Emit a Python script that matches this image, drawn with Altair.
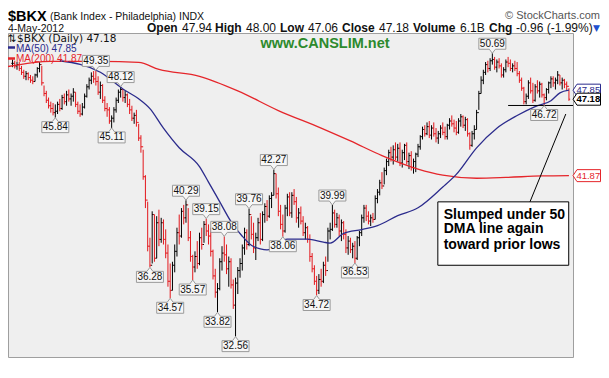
import altair as alt
import pandas as pd

# ---------------- data ----------------
start_idx = -13  # trading-day index of the first bar (0 = 1-Jun-2011)

high = [50.2, 50.1, 50.0, 50.0, 49.7, 49.4, 49.3, 49.2, 49.0, 48.9, 49.1, 49.6, 50.0,
        49.7, 48.2, 47.8, 47.3, 47.0, 46.9, 46.8, 47.0, 47.2, 47.5, 47.6, 47.8, 47.9, 47.6, 48.0, 47.7,
        47.0, 46.8, 46.9, 47.6, 48.3, 48.8, 49.2, 49.3, 49.35, 48.9, 48.5, 48.3, 47.4, 46.9, 46.6, 46.0,
        46.6, 47.3, 47.9, 48.12, 47.9, 47.8, 47.6, 47.2, 46.7, 46.2, 46.4, 45.4, 44.6, 43.6, 41.9, 40.2,
        38.0, 39.6, 39.4, 39.3, 39.7, 39.2, 39.1, 38.5, 37.6, 36.5, 36.6, 37.6, 38.6, 39.4, 39.8, 40.0,
        40.29, 39.8, 38.4, 37.0, 37.2, 37.8, 38.3, 38.6, 39.0, 39.15, 38.8, 38.6, 37.3, 36.2, 35.4, 36.8,
        37.5, 38.08, 37.6, 36.9, 36.8, 35.6, 35.7, 36.3, 36.8, 37.6, 38.6, 38.5, 39.76, 39.3, 38.9, 38.3,
        39.2, 39.5, 39.6, 40.1, 40.3, 40.6, 40.8, 42.27, 42.0, 41.1, 40.0, 39.4, 40.0, 40.7, 40.8, 40.8,
        41.0, 40.5, 39.8, 39.9, 39.3, 38.9, 38.7, 38.2, 37.1, 36.4, 35.8, 35.9, 36.2, 36.6, 36.9, 38.6,
        38.9, 39.99, 39.7, 39.5, 39.4, 39.1, 39.0, 38.5, 38.1, 38.0, 37.7, 37.8, 38.1, 38.4, 39.4, 40.0,
        40.0, 39.6, 39.4, 39.5, 40.6, 41.0, 41.6, 42.1, 42.4, 43.0, 43.6, 43.8, 43.9, 44.1, 44.0, 44.1,
        43.6, 44.0, 44.1, 43.4, 43.5, 43.0, 43.4, 44.0, 44.6, 45.2, 45.3, 45.5, 45.6, 45.3, 45.5, 45.1,
        44.9, 45.3, 45.5, 45.2, 45.4, 45.8, 46.0, 45.7, 45.6, 45.8, 46.1, 46.0, 45.9, 45.8, 44.8, 44.9,
        45.3, 46.4, 47.8, 48.9, 49.4, 50.0, 50.1, 50.3, 50.69, 50.4, 50.2, 50.3, 49.9, 49.6, 50.2, 50.4,
        50.2, 49.9, 50.1, 50.0, 49.3, 48.8, 48.1, 47.6, 48.6, 48.8, 48.4, 48.3, 48.6, 48.5, 48.4, 47.6,
        48.0, 48.5, 48.9, 48.9, 48.8, 49.3, 49.0, 48.8, 48.7, 48.5, 48.00]

low = [49.6, 49.5, 49.4, 49.3, 49.0, 48.7, 48.6, 48.6, 48.4, 48.3, 48.5, 48.8, 49.2,
       48.2, 47.4, 46.9, 46.5, 46.2, 46.0, 45.84, 46.1, 46.3, 46.4, 46.8, 46.7, 47.0, 46.7, 47.0, 46.6,
       46.1, 45.9, 46.0, 46.5, 47.3, 47.9, 48.3, 48.4, 48.2, 47.5, 47.2, 46.9, 46.3, 45.9, 45.4, 45.11,
       45.5, 46.2, 46.9, 47.3, 47.0, 46.9, 46.6, 46.1, 45.6, 45.4, 45.2, 44.2, 43.4, 41.6, 39.8, 37.2,
       36.28, 36.5, 36.6, 36.8, 37.5, 37.7, 37.6, 36.8, 35.2, 34.57, 35.0, 36.0, 36.9, 37.6, 38.0, 38.8,
       38.9, 37.8, 36.6, 35.57, 36.0, 36.2, 36.4, 37.3, 37.7, 38.1, 37.6, 36.9, 35.6, 34.6, 33.82, 35.0,
       36.1, 36.6, 35.9, 35.2, 35.1, 34.0, 32.56, 34.8, 35.7, 36.1, 37.0, 37.3, 37.5, 37.9, 37.1, 36.7,
       37.8, 37.6, 37.8, 38.9, 39.0, 39.2, 39.8, 40.6, 40.4, 39.3, 38.5, 38.06, 38.3, 39.3, 39.3, 39.2,
       40.0, 38.9, 38.6, 38.8, 38.1, 37.9, 37.7, 36.6, 36.0, 35.3, 34.72, 34.8, 35.2, 35.4, 35.8, 36.6,
       37.9, 38.4, 38.6, 38.6, 38.1, 37.8, 37.9, 37.1, 37.0, 37.1, 36.8, 36.53, 36.7, 37.5, 38.1, 38.9,
       39.0, 38.8, 38.7, 38.9, 39.1, 40.1, 40.6, 41.0, 41.3, 41.9, 42.5, 42.8, 42.6, 42.9, 42.8, 42.5,
       42.4, 42.9, 42.6, 42.3, 42.2, 42.0, 42.1, 43.1, 43.6, 44.3, 44.5, 44.6, 44.4, 44.3, 44.5, 44.1,
       44.0, 44.4, 44.6, 44.3, 44.3, 45.0, 45.2, 44.8, 44.6, 44.7, 45.2, 45.1, 44.9, 44.5, 43.6, 43.8,
       44.3, 45.0, 46.4, 47.6, 48.3, 49.0, 49.2, 49.3, 49.8, 49.4, 49.2, 49.5, 48.8, 48.8, 49.2, 49.6,
       49.3, 49.2, 49.3, 48.9, 48.4, 47.8, 46.8, 46.8, 47.2, 47.6, 46.9, 47.0, 47.6, 47.3, 47.3, 46.72,
       47.1, 47.6, 48.0, 48.1, 47.9, 48.3, 48.2, 47.9, 48.0, 47.8, 47.06]

close = [49.9, 49.7, 49.8, 49.5, 49.2, 48.9, 49.1, 48.8, 48.6, 48.5, 49.0, 49.5, 49.8,
         48.4, 47.6, 47.1, 46.7, 46.5, 46.2, 46.3, 46.8, 46.5, 47.3, 47.0, 47.5, 47.2, 47.4, 47.7, 46.8,
         46.3, 46.1, 46.6, 47.4, 48.1, 48.6, 48.9, 48.7, 48.5, 47.7, 48.2, 47.1, 46.5, 46.4, 45.6, 45.8,
         46.4, 47.1, 47.7, 47.9, 47.3, 47.5, 46.8, 46.4, 45.8, 46.0, 45.5, 44.4, 43.8, 41.8, 40.3, 37.5,
         36.4, 39.4, 36.8, 38.9, 37.9, 38.9, 37.9, 37.1, 35.5, 35.0, 36.4, 37.2, 38.3, 38.1, 39.6, 39.2,
         40.0, 38.0, 36.9, 36.3, 36.9, 36.5, 38.0, 37.6, 38.8, 38.4, 38.1, 37.2, 35.8, 34.9, 35.1, 36.6,
         37.1, 37.0, 36.2, 36.6, 35.3, 34.2, 35.4, 36.1, 36.5, 37.4, 38.3, 37.6, 39.4, 38.2, 37.4, 38.0,
         38.9, 37.9, 39.4, 39.9, 39.3, 40.4, 40.6, 42.0, 40.7, 39.6, 38.8, 38.4, 39.8, 40.5, 39.5, 40.6,
         40.2, 39.2, 39.5, 39.0, 38.3, 38.6, 37.9, 36.9, 36.2, 35.5, 35.0, 35.6, 35.5, 36.4, 36.1, 38.4,
         38.5, 39.5, 38.8, 39.2, 38.4, 38.9, 38.2, 37.4, 37.8, 37.3, 37.5, 36.8, 38.0, 38.3, 39.2, 39.8,
         39.3, 39.0, 39.2, 39.1, 40.4, 40.8, 41.4, 41.2, 42.2, 42.8, 43.4, 43.1, 43.6, 43.1, 43.7, 42.7,
         43.4, 43.9, 42.8, 43.2, 42.4, 42.8, 43.3, 43.8, 44.5, 45.0, 44.7, 45.2, 44.6, 45.1, 44.7, 44.4,
         44.7, 45.1, 44.8, 44.5, 45.3, 45.6, 45.4, 45.1, 44.8, 45.6, 45.9, 45.3, 45.7, 44.7, 43.9, 44.7,
         45.0, 46.2, 47.6, 48.6, 49.2, 49.8, 49.5, 50.1, 50.2, 49.6, 50.0, 49.7, 49.0, 49.4, 50.0, 49.9,
         49.5, 49.7, 49.5, 49.1, 48.6, 48.0, 47.0, 47.4, 48.4, 47.8, 47.1, 48.1, 47.8, 48.3, 47.5, 47.3,
         47.9, 48.4, 48.7, 48.4, 48.6, 49.0, 48.4, 48.6, 48.3, 48.14, 47.18]

month_idx = [0, 22, 42, 65, 86, 107, 128, 149, 169, 189, 211, 231]
month_lbl = ["Jun", "Jul", "Aug", "Sep", "Oct", "Nov", "Dec", "2012", "Feb", "Mar", "Apr", "May"]

ma50_idx = [8, 26, 36, 43, 48, 54, 61, 70, 74, 79, 84, 89, 93, 97, 100, 109, 118, 125, 128, 134,
            142, 149, 158, 167, 178, 184, 193, 202, 211, 219, 226, 230, 234]
ma50_val = [50.1, 49.21, 47.94, 47.21, 46.49, 45.09, 43.73, 42.47, 41.45, 40.19, 38.97, 38.09, 37.56,
            37.34, 37.28, 37.92, 37.92, 37.74, 37.68, 38.26, 38.49, 38.73, 39.33, 39.82, 41.13, 41.95,
            43.73, 45.09, 45.99, 46.63, 47.07, 47.65, 47.85]

ma200_idx = [-15, 4, 26, 43, 52, 70, 87, 105, 124, 137, 151, 167, 178, 193, 206, 222, 234]
ma200_val = [49.65, 50.05, 50.05, 49.97, 49.43, 48.9, 47.8, 46.35, 45.1, 44.2, 43.2, 42.3, 41.9,
             41.7, 41.75, 41.85, 41.87]

lbl_idx = [6, 24, 31, 35, 48, 57, 64, 67, 73, 78, 81, 86, 92, 103, 107, 122, 129, 139, 200, 223]
lbl_val = [45.84, 49.35, 45.11, 48.12, 36.28, 34.57, 40.29, 35.57, 39.15, 33.82, 38.08, 32.56,
           39.76, 42.27, 38.06, 34.72, 39.99, 36.53, 50.69, 46.72]
lbl_side = ["low", "high", "low", "high", "low", "low", "high", "low", "high", "low", "high", "low",
            "high", "high", "low", "low", "high", "low", "high", "low"]

last_vals = [47.85, 47.18, 41.87]          # MA(50), close, MA(200)
y_ticks = list(range(32, 53))

support_level = 46.72
note_lines = ["Slumped under  50", "DMA line again", "toward prior lows"]

# ---------------- styling ----------------
W, H = 565, 324
UP, DOWN = "#000000", "#e3171c"
NAVY, RED = "#2b2b8c", "#e5262b"
FONT = "Liberation Sans"

n = len(close)
idx = list(range(start_idx, start_idx + n))
opens = [close[0]] + close[:-1]
dirs = ["up" if k == 0 or close[k] >= close[k - 1] else "down" for k in range(n)]
bars = pd.DataFrame(dict(i=idx, high=high, low=low, close=close, open=opens, dir=dirs))
bars["il"] = bars["i"] - 0.55
bars["ir"] = bars["i"] + 0.55

xs = alt.Scale(domain=[-15, 235.8], nice=False, zero=False)
ys = alt.Scale(type="log", domain=[31.54, 52.32], nice=False, zero=False)

lbl_arr = "[" + ",".join("'%s'" % m for m in month_lbl) + "]"
idx_arr = "[" + ",".join(str(v) for v in month_idx) + "]"
x_axis = alt.Axis(values=month_idx, labelExpr=f"{lbl_arr}[indexof({idx_arr}, datum.value)]",
                  title=None, grid=True, gridColor="#d3d3d3", ticks=False, domain=False,
                  labelFont=FONT, labelColor="#222222", labelPadding=2, labelFlush=False,
                  labelOverlap=False,
                  labelFontSize={"condition": {"test": "datum.value == 149", "value": 12}, "value": 10.5},
                  labelFontWeight={"condition": {"test": "datum.value == 149", "value": "bold"},
                                   "value": "normal"})
y_axis = alt.Axis(orient="right", values=y_ticks, format="d", title=None, grid=True,
                  gridColor="#d3d3d3", tickSize=3, tickColor="#888888", domain=False,
                  labelFont=FONT, labelFontSize=11, labelColor="#222222", labelPadding=2,
                  labelOverlap=False)

colr = alt.Color("dir:N", scale=alt.Scale(domain=["up", "down"], range=[UP, DOWN]), legend=None)

hl = alt.Chart(bars).mark_rule(strokeWidth=1).encode(
    x=alt.X("i:Q", scale=xs, axis=x_axis),
    y=alt.Y("low:Q", scale=ys, axis=y_axis),
    y2="high:Q", color=colr)
op = alt.Chart(bars).mark_rule(strokeWidth=1).encode(
    x=alt.X("il:Q", scale=xs, axis=None), x2="i:Q",
    y=alt.Y("open:Q", scale=ys, axis=None), color=colr)
cl = alt.Chart(bars).mark_rule(strokeWidth=1).encode(
    x=alt.X("i:Q", scale=xs, axis=None), x2="ir:Q",
    y=alt.Y("close:Q", scale=ys, axis=None), color=colr)


def xy(xf="i", yf="v"):
    return dict(x=alt.X(f"{xf}:Q", scale=xs, axis=None), y=alt.Y(f"{yf}:Q", scale=ys, axis=None))


ma200 = alt.Chart(pd.DataFrame({"i": ma200_idx, "v": ma200_val})).mark_line(
    color=RED, strokeWidth=1.3, interpolate="monotone").encode(**xy())
ma50 = alt.Chart(pd.DataFrame({"i": ma50_idx, "v": ma50_val})).mark_line(
    color=NAVY, strokeWidth=1.3, interpolate="monotone").encode(**xy())

# support line and price labels
sup = alt.Chart(pd.DataFrame({"a": [207], "b": [235.8], "v": [support_level]})).mark_rule(
    color="black", strokeWidth=1).encode(x=alt.X("a:Q", scale=xs, axis=None), x2="b:Q",
                                         y=alt.Y("v:Q", scale=ys, axis=None))

lab = pd.DataFrame({"i": lbl_idx, "v": lbl_val, "side": lbl_side})
LOW_PATH = "M0,0 L3,4 H13.5 V15 H-13.5 V4 H-3 Z"
HIGH_PATH = "M0,0 L3,-4 H13.5 V-15 H-13.5 V-4 H-3 Z"
lab_layers = []
for side, path, off in [("low", LOW_PATH, 9.5), ("high", HIGH_PATH, -9.5)]:
    d = lab[lab.side == side]
    lab_layers.append(alt.Chart(d).mark_point(shape=path, size=4, filled=True, fill="#f6f6f6",
                                              stroke="#9a9a9a", strokeWidth=1, opacity=1).encode(**xy()))
    lab_layers.append(alt.Chart(d).mark_text(font=FONT, fontSize=10, color="#111111", yOffset=off,
                                             baseline="middle").encode(
        text=alt.Text("v:Q", format=".2f"), **xy()))

# right-hand value boxes
RIGHT_PATH = "M0,0 L4,-6 H27.5 V6 H4 Z"
rv_layers = []
for v, c, wgt in [(last_vals[2], RED, "normal"), (last_vals[0], NAVY, "normal"), (last_vals[1], "#000000", "bold")]:
    d = pd.DataFrame({"v": [v]})
    rv_layers.append(alt.Chart(d).mark_point(shape=RIGHT_PATH, size=4, filled=True, fill="white",
                                             stroke=c, strokeWidth=1, opacity=1).encode(
        x=alt.value(W), y=alt.Y("v:Q", scale=ys, axis=None)))
    rv_layers.append(alt.Chart(d).mark_text(font=FONT, fontSize=9.5, fontWeight=wgt, color=c,
                                            baseline="middle", align="center").encode(
        x=alt.value(W + 15.3), y=alt.Y("v:Q", scale=ys, axis=None),
        text=alt.Text("v:Q", format=".2f")))

# annotation box
box = alt.Chart(pd.DataFrame({"a": [175.8], "b": [233.9], "t": [40.19], "u": [36.4]})).mark_rect(
    fill="white", stroke="black", strokeWidth=1).encode(
    x=alt.X("a:Q", scale=xs, axis=None), x2="b:Q", y=alt.Y("t:Q", scale=ys, axis=None), y2="u:Q")
arrow = alt.Chart(pd.DataFrame({"a": [216.7], "b": [232.6], "t": [40.19], "u": [46.1]})).mark_rule(
    color="black", strokeWidth=1).encode(
    x=alt.X("a:Q", scale=xs, axis=None), x2="b:Q", y=alt.Y("t:Q", scale=ys, axis=None), y2="u:Q")
note = alt.Chart(pd.DataFrame({"i": [178.4] * 3, "v": [39.4, 38.5, 37.56], "t": note_lines})).mark_text(
    font=FONT, fontSize=14, fontWeight="bold", align="left", baseline="middle", color="black").encode(
    text="t:N", **xy())


def txt(s, x, y, size=11, weight="normal", color="#111111", align="left", font=FONT):
    return alt.Chart(pd.DataFrame({"t": [s]})).mark_text(
        align=align, baseline="alphabetic", fontSize=size, fontWeight=weight, color=color,
        font=font).encode(x=alt.value(x), y=alt.value(y), text="t:N")


def dash(y, color):
    return alt.Chart(pd.DataFrame({"t": [0]})).mark_rule(color=color, strokeWidth=2.5).encode(
        x=alt.value(0), x2=alt.value(7), y=alt.value(y))


L2 = -1.5
texts = [
    txt("$BKX", 0, -12.5, 14.5, "bold", "#000000"),
    txt("(Bank Index - Philadelphia) INDX", 42, -13.5, 10.5),
    txt("\u00a9 StockCharts.com", 592, -14, 11, color="#555555", align="right"),
    txt("4-May-2012", 0, L2, 10.5),
    txt("Open", 139, L2, 12, "bold"), txt("47.94", 174, L2, 12),
    txt("High", 207, L2, 12, "bold"), txt("48.00", 238, L2, 12),
    txt("Low", 272, L2, 12, "bold"), txt("47.06", 300, L2, 12),
    txt("Close", 334, L2, 12, "bold"), txt("47.18", 371, L2, 12),
    txt("Volume", 405, L2, 12, "bold"), txt("6.1B", 452, L2, 12),
    txt("Chg", 481, L2, 12, "bold"), txt("-0.96 (-1.99%)", 508, L2, 12),
    txt("\u25bc", 585, L2 - 1, 9, color="#2050d0", font="DejaVu Sans"),
    txt("\u21c5", 0, 8.5, 10.5, color="#111111", font="DejaVu Sans"),
    txt("$BKX (Daily) 47.18", 9, 8.5, 10.5, color="#111111", font="DejaVu Sans"),
    dash(14.5, NAVY), txt("MA(50) 47.85", 8, 18.5, 10, color=NAVY),
    dash(25.5, RED), txt("MA(200) 41.87", 8, 29, 10, color=RED),
    txt("www.CANSLIM.net", 317, 15, 14.5, "bold", "#2d8a2d", align="center"),
]

chart = alt.layer(hl, op, cl, ma200, ma50, sup, *lab_layers, *rv_layers, box, arrow, note, *texts).properties(
    width=W, height=H,
    autosize=alt.AutoSizeParams(type="none"),
    padding={"left": 0, "top": 25, "right": 28, "bottom": 12},
    background="white",
).configure_view(fill="#efefef", stroke="#9f9f9f", strokeWidth=1)

chart.save("out.html", embed_options={"renderer": "svg", "actions": False})
